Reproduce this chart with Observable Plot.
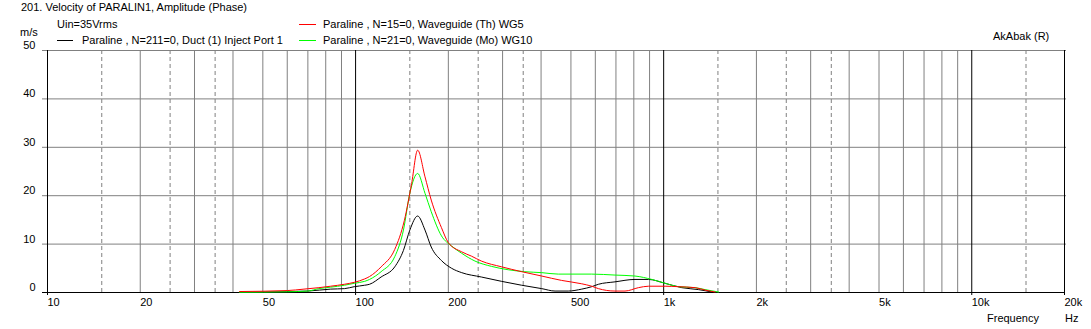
<!DOCTYPE html>
<html><head><meta charset="utf-8">
<script src="https://cdn.jsdelivr.net/npm/d3@7"></script>
<script src="https://cdn.jsdelivr.net/npm/@observablehq/plot@0.6"></script>
<style>
body{margin:0;background:#fff;}
#chart{width:1091px;height:329px;}
svg{font-family:"Liberation Sans",Arial,sans-serif;}
</style></head><body><div id="chart"></div>
<script>
// Tick labels and gridlines
const xTicks = [10,20,50,100,200,500,1000,2000,5000,10000,20000];
const xTickLabels = ["10","20","50","100","200","500","1k","2k","5k","10k","20k"];
const yTicks = [0,10,20,30,40,50];
const yGrid = [10,20,30,40,50];
const gridSolid = [20,30,40,50,60,70,80,90,200,300,400,500,600,700,800,900,2000,3000,4000,5000,6000,7000,8000,9000];
const gridDashed = [15,25,35,150,250,350,1500,2500,3500,15000];
const gridDecade = [10,100,1000,10000,20000];

// Series: Paraline N=15 Waveguide (Th) WG5 (red)
const freqRed = [42,60,68,76,83,92,99,107,111,121,134,144,152,159,168,176,190,200,221,238,256,298,346,402,466,542,584,614,695,749,828,893,1011,1117,1265,1363,1470];
const valRed  = [0.2,0.4,0.7,1.0,1.3,1.7,2.1,2.8,3.3,5.3,8.9,14.9,22.5,29.4,23.9,19.1,13.4,10.3,8.4,7.5,6.5,5.3,4.3,3.4,2.5,1.8,1.3,0.8,0.3,0.3,1.0,1.3,1.3,1.2,1.0,0.5,0.1];

// Series: Paraline N=21 Waveguide (Mo) WG10 (green)
const freqGreen = [42,60,70,76,83,92,99,107,111,121,134,143,150,159,168,176,190,205,221,244,276,313,354,402,455,584,695,807,915,1011,1117,1265,1363,1507];
const valGreen  = [0.05,0.15,0.3,0.8,1.1,1.5,1.9,2.3,2.7,4.3,7.4,12.9,20.5,24.6,20.5,16.7,11.7,9.6,8.1,6.5,5.4,4.7,4.3,4.1,3.8,3.8,3.6,3.4,2.7,1.9,1.2,1.0,0.6,0.1];

// Series: Paraline N=211 Duct (1) Inject Port 1 (black)
const freqBlack = [42,51,70,83,92,99,107,111,121,134,143,150,159,168,176,190,205,221,256,298,346,402,444,490,542,584,614,695,807,893,1011,1145,1297,1433];
const valBlack  = [0.0,0.1,0.3,0.7,0.8,1.2,1.5,1.7,3.2,5.3,8.7,12.9,15.8,12.9,9.4,6.6,5.0,4.1,3.2,2.3,1.5,0.8,0.3,0.3,0.7,1.2,1.7,2.2,2.7,2.7,1.9,1.0,0.6,0.1];

const toRows = (fs, vs) => fs.map((f, i) => ({f, v: vs[i]}));
const red = toRows(freqRed, valRed);
const green = toRows(freqGreen, valGreen);
const black = toRows(freqBlack, valBlack);

const grey = "#808080";
const svg = Plot.plot({
  width: 1091, height: 329,
  marginLeft: 47, marginRight: 27, marginTop: 50, marginBottom: 37,
  x: {type: "log", domain: [10, 20000], axis: null},
  y: {domain: [0, 50], axis: null},
  style: {fontFamily: "'Liberation Sans', Arial, sans-serif", fontSize: "11px", background: "#fff", color: "#000", overflow: "visible"},
  marks: [
    Plot.ruleY(yGrid, {stroke: grey, insetLeft: -5, insetRight: -2}),
    Plot.ruleX(gridSolid, {stroke: grey}),
    Plot.ruleX(gridDashed, {stroke: grey, strokeDasharray: "4,3"}),
    Plot.ruleX(gridDecade, {stroke: "#000", insetBottom: -3}),
    Plot.ruleY([0], {stroke: "#000", insetLeft: -5}),
    Plot.line(black, {x: "f", y: "v", stroke: "#000", strokeWidth: 1, curve: "monotone-x"}),
    Plot.line(green, {x: "f", y: "v", stroke: "#00ff00", strokeWidth: 1, curve: "monotone-x"}),
    Plot.line(red, {x: "f", y: "v", stroke: "#ff0000", strokeWidth: 1, curve: "monotone-x"}),
    Plot.text(xTicks, {x: d => d, text: (d, i) => xTickLabels[i], frameAnchor: "bottom", textAnchor: "start", dy: 13, fill: "#000"}),
    Plot.text(yTicks, {y: d => d, text: d => String(d), frameAnchor: "left", textAnchor: "end", dx: -12, dy: -5, fill: "#000"})
  ]
});
document.getElementById("chart").appendChild(svg);

const s = d3.select(svg);
const txt = (x, y, t, anchor = "start") => s.append("text").attr("x", x).attr("y", y).attr("text-anchor", anchor)
  .attr("fill", "#000").style("font-size", "11px").text(t);
txt(21, 11, "201. Velocity of PARALIN1, Amplitude (Phase)");
txt(20, 36, "m/s");
txt(57, 28, "Uin=35Vrms");
txt(82, 44, "Paraline , N=211=0, Duct (1) Inject Port 1");
txt(323, 28, "Paraline , N=15=0, Waveguide (Th) WG5");
txt(323, 44, "Paraline , N=21=0, Waveguide (Mo) WG10");
txt(993, 40, "AkAbak (R)");
txt(987, 322, "Frequency");
txt(1065, 322, "Hz");
const leg = (x1, x2, y, c) => s.append("line").attr("x1", x1).attr("x2", x2).attr("y1", y).attr("y2", y).attr("stroke", c);
leg(57, 73, 40.5, "#000");
leg(299, 316, 24.5, "#ff0000");
leg(299, 316, 40.5, "#00ff00");
</script></body></html>
